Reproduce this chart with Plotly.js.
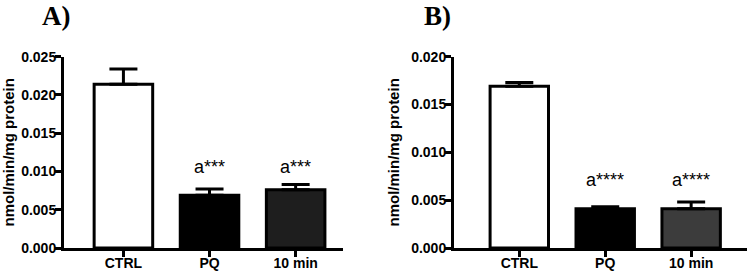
<!DOCTYPE html>
<html>
<head>
<meta charset="utf-8">
<script src="https://cdn.plot.ly/plotly-3.0.1.min.js"></script>
<style>html,body{margin:0;padding:0;background:#fff;}#chart{width:750px;height:272px;}</style>
</head>
<body>
<div id="chart"></div>
<script>
// Data
const categories = ["CTRL", "PQ", "10 min"];
const valuesA = [0.0214, 0.0069, 0.0076];
const errorsA = [0.0020, 0.0008, 0.0007];
const valuesB = [0.0169, 0.0041, 0.0041];
const errorsB = [0.0004, 0.0002, 0.0007];
const sigLabelsA = ["", "a***", "a***"];
const sigLabelsB = ["", "a****", "a****"];
const yTicksA = [0, 0.005, 0.010, 0.015, 0.020, 0.025];
const yTicksB = [0, 0.005, 0.010, 0.015, 0.020];
const panelLabels = ["A)", "B)"];
const yTitle = "nmol/min/mg protein";

const colorsA = ["#ffffff", "#000000", "#1e1e1e"];
const colorsB = ["#ffffff", "#000000", "#3c3c3c"];

const SANS = "Liberation Sans";
const SERIF = "Liberation Serif";

function barTrace(vals, errs, colors, xa, ya) {
  return {
    type: "bar", x: categories, y: vals, xaxis: xa, yaxis: ya,
    width: 0.68,
    marker: {color: colors, line: {color: "#000", width: 3}},
    error_y: {type: "data", symmetric: false, array: errs, arrayminus: [0,0,0],
              color: "#000", thickness: 3, width: 14},
    hoverinfo: "none", showlegend: false
  };
}

const data = [
  barTrace(valuesA, errorsA, colorsA, "x", "y"),
  barTrace(valuesB, errorsB, colorsB, "x2", "y2")
];

const tickFont = {family: SANS, size: 14, weight: 700, color: "#000"};

function xAxis(domain, range, anchor) {
  return {
    domain: domain, range: range, anchor: anchor, type: "category",
    tickvals: categories, ticktext: categories.map(c => "<b>" + c + "</b>"),
    showline: true, linecolor: "#000", linewidth: 3,
    ticks: "outside", ticklen: 6, tickwidth: 3, tickcolor: "#000",
    ticklabelstandoff: -6,
    showgrid: false, zeroline: false, fixedrange: true,
    tickfont: tickFont
  };
}
function yAxis(domain, range, ticks, anchor) {
  return {
    domain: domain, range: range, anchor: anchor,
    tickvals: ticks, ticktext: ticks.map(t => "<b>" + t.toFixed(3) + "</b>"),
    showline: true, linecolor: "#000", linewidth: 3,
    ticks: "outside", ticklen: 6, tickwidth: 3, tickcolor: "#000",
    ticklabelstandoff: -4,
    showgrid: false, zeroline: false, fixedrange: true,
    tickfont: tickFont,
    title: {text: "<b>" + yTitle + "</b>", standoff: 8, font: {family: SANS, size: 15, weight: 700, color: "#000"}}
  };
}

const yDom = [24/272, 215.3/272];

const annotations = [];
categories.forEach((c, i) => {
  if (sigLabelsA[i]) annotations.push({x: c, y: 0.0106, xref: "x", yref: "y", text: sigLabelsA[i],
    showarrow: false, font: {family: SANS, size: 18, color: "#000"}});
  if (sigLabelsB[i]) annotations.push({x: c, y: 0.0071, xref: "x2", yref: "y2", text: sigLabelsB[i],
    showarrow: false, font: {family: SANS, size: 18, color: "#000"}});
});
annotations.push({x: 56/750, y: 1 - 16/272, xref: "paper", yref: "paper", xanchor: "center", yanchor: "middle",
  text: "<b>" + panelLabels[0] + "</b>",
  showarrow: false, font: {family: SERIF, size: 27, weight: 700, color: "#000"}});
annotations.push({x: 437/750, y: 1 - 16/272, xref: "paper", yref: "paper", xanchor: "center", yanchor: "middle",
  text: "<b>" + panelLabels[1] + "</b>",
  showarrow: false, font: {family: SERIF, size: 27, weight: 700, color: "#000"}});

const layout = {
  width: 750, height: 272,
  margin: {l: 0, r: 0, t: 0, b: 0},
  paper_bgcolor: "#fff", plot_bgcolor: "rgba(0,0,0,0)",
  showlegend: false,
  xaxis: xAxis([64/750, 343/750], [-0.69, 2.55], "y"),
  yaxis: yAxis(yDom, [0, 0.025], yTicksA, "x"),
  xaxis2: xAxis([454/750, 747/750], [-0.76, 2.65], "y2"),
  yaxis2: yAxis(yDom, [0, 0.020], yTicksB, "x2"),
  annotations: annotations
};

Plotly.newPlot("chart", data, layout, {displayModeBar: false, staticPlot: true});
</script>
</body>
</html>
